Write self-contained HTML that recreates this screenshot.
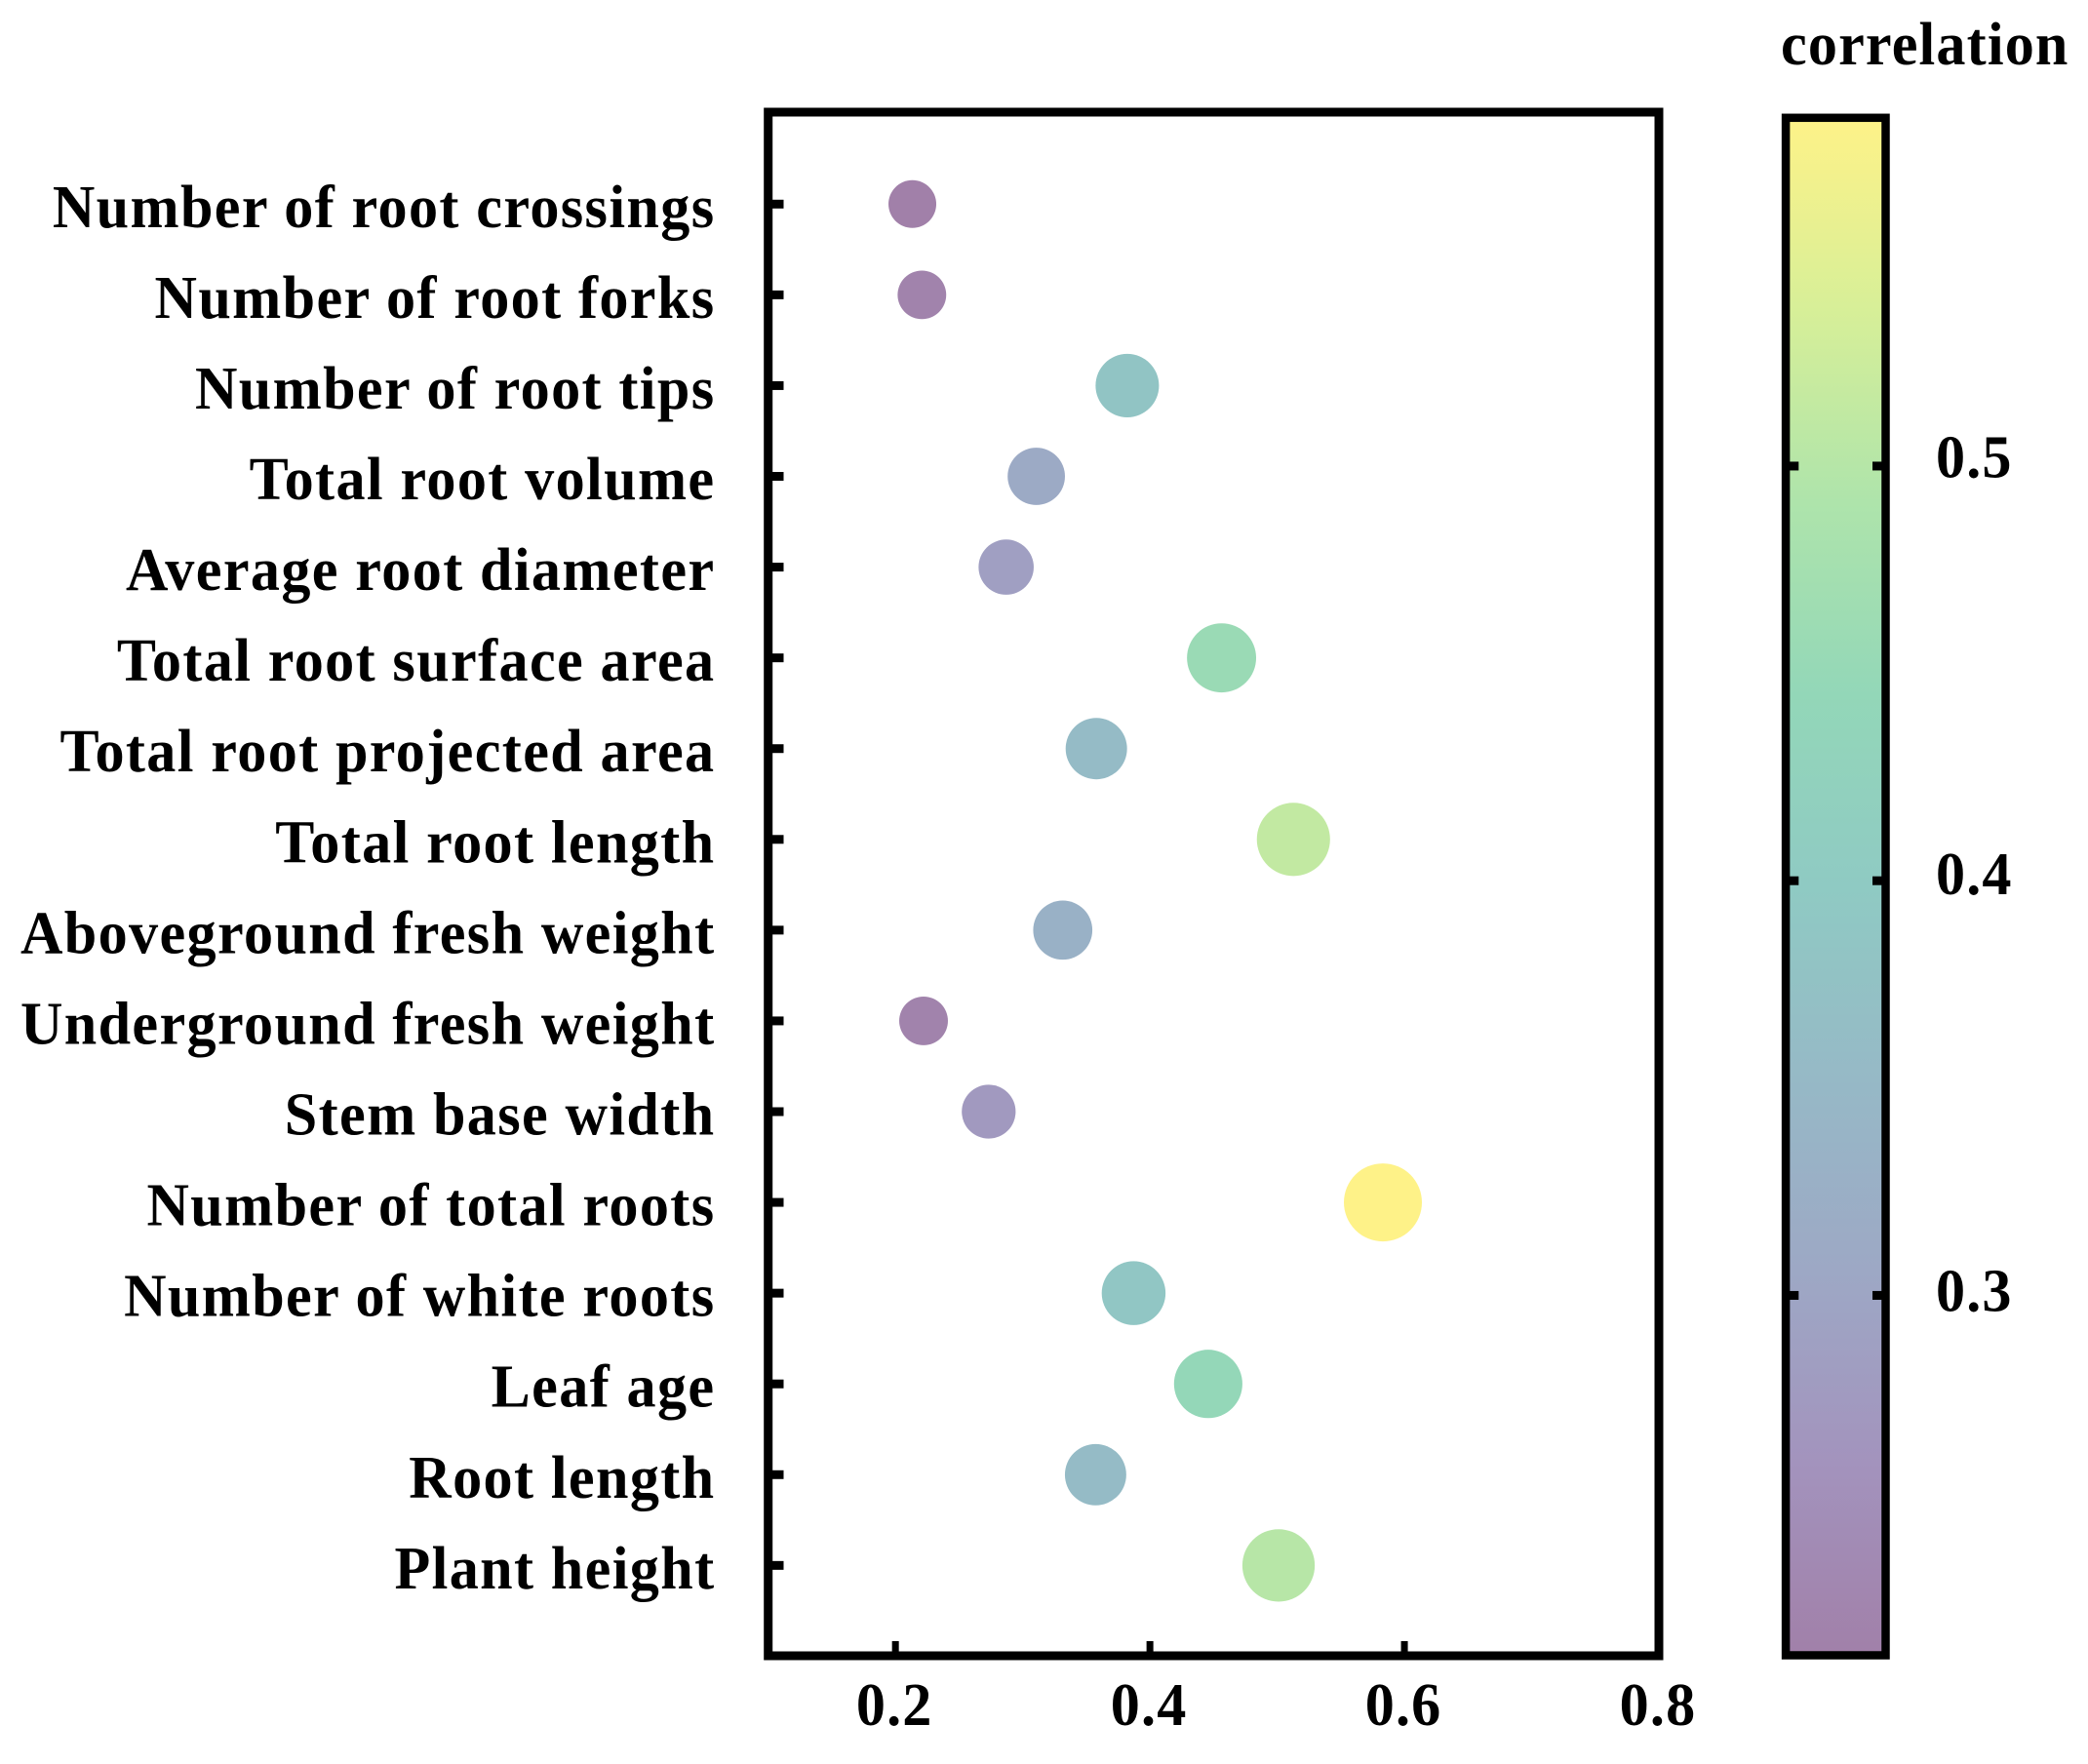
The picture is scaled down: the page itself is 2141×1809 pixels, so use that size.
<!DOCTYPE html>
<html lang="en">
<head>
<meta charset="utf-8">
<title>Correlation bubble chart</title>
<style>
html,body{margin:0;padding:0;background:#fff;}
svg{display:block;}
text{font-family:"Liberation Serif",serif;font-weight:700;fill:#000;font-size:62px;}
</style>
</head>
<body>
<svg id="chart" width="2141" height="1809" viewBox="0 0 2141 1809" xmlns="http://www.w3.org/2000/svg">
<defs>
<linearGradient id="cbGrad" x1="0" y1="1" x2="0" y2="0"></linearGradient>
</defs>
<rect x="0" y="0" width="2141" height="1809" fill="#ffffff"></rect>
<g id="marks"></g>
<g id="axes"></g>
<g id="colorbar"></g>
<text transform="translate(1826 66) scale(0.97 1)" letter-spacing="1.2">correlation</text>
</svg>
<script>
const categories = ["Number of root crossings","Number of root forks","Number of root tips","Total root volume","Average root diameter","Total root surface area","Total root projected area","Total root length","Aboveground fresh weight","Underground fresh weight","Stem base width","Number of total roots","Number of white roots","Leaf age","Root length","Plant height"];
const correlations = [0.2133,0.2208,0.3822,0.3107,0.287,0.4563,0.3579,0.5128,0.3315,0.2221,0.2733,0.5831,0.3872,0.4458,0.3573,0.5011];
const xTickValues = [0.2,0.4,0.6,0.8];
const xTickLabels = ["0.2","0.4","0.6","0.8"];
const colorbarTickValues = [0.3,0.4,0.5];
const colorbarTickLabels = ["0.3","0.4","0.5"];
const colormap = ["#a180a9","#a393bd","#9da8c5","#96b9c6","#8fcac3","#93d7b8","#aee4ab","#d7ef98","#fef288"];

const svgNS = "http://www.w3.org/2000/svg";
const plot = {left:787.7,right:1701,top:115,bottom:1698,xMin:0.1,xMax:0.8,y0:209.3,step:93.07};
const bar = {left:1835.3,right:1929.3,top:125,bottom:1693.3,vMin:0.2142,vMax:0.583};

function xScale(v){return plot.left+(v-plot.xMin)/(plot.xMax-plot.xMin)*(plot.right-plot.left);}
function yScale(i){return plot.y0+i*plot.step;}
function barScale(v){return bar.bottom-(v-bar.vMin)/(bar.vMax-bar.vMin)*(bar.bottom-bar.top);}
function barLabelBaseline(v){return 917-(v-0.4)*4275;}
function radiusScale(v){return Math.sqrt(Math.max(100,600+2704*(v-0.2133)));}
function hexToRgb(h){return [1,3,5].map(function(p){return parseInt(h.substr(p,2),16);});}
function colorScale(v){
  const t=Math.min(1,Math.max(0,(v-bar.vMin)/(bar.vMax-bar.vMin)))*(colormap.length-1);
  const i=Math.min(colormap.length-2,Math.floor(t));
  const a=hexToRgb(colormap[i]);
  const b=hexToRgb(colormap[i+1]);
  const f=t-i;
  return "rgb("+a.map(function(c,k){return Math.round(c+(b[k]-c)*f);}).join(",")+")";
}
function make(tag,attrs,parent){
  const el=document.createElementNS(svgNS,tag);
  Object.keys(attrs).forEach(function(k){el.setAttribute(k,attrs[k]);});
  parent.appendChild(el);
  return el;
}
function placeText(x,y){return "translate("+x+" "+y+") scale(0.97 1)";}

const marks=document.getElementById("marks");
const axes=document.getElementById("axes");
const colorbar=document.getElementById("colorbar");

correlations.forEach(function(v,i){
  const c=make("circle",{cx:xScale(v),cy:yScale(i),r:radiusScale(v),fill:colorScale(v)},marks);
  
  
});

categories.forEach(function(name,i){
  const t=make("line",{x1:plot.left,x2:803.5,y1:yScale(i),y2:yScale(i),stroke:"#000","stroke-width":9},axes);
  
  
  const l=make("text",{transform:placeText(733.5,yScale(i)+23.5),"text-anchor":"end","letter-spacing":"1.43"},axes);
  l.textContent=name;
  
  
});

xTickValues.forEach(function(v,i){
  const t=make("line",{x1:xScale(v),x2:xScale(v),y1:plot.bottom,y2:1683,stroke:"#000","stroke-width":7},axes);
  
  
  const l=make("text",{transform:placeText(xScale(v)-1,1769),"text-anchor":"middle","letter-spacing":"1.2"},axes);
  l.textContent=xTickLabels[i];
  
  
});

const frame=make("rect",{x:plot.left,y:plot.top,width:plot.right-plot.left,height:plot.bottom-plot.top,fill:"none",stroke:"#000","stroke-width":9},axes);



const grad=document.getElementById("cbGrad");
colormap.forEach(function(c,i){
  make("stop",{offset:i/(colormap.length-1),"stop-color":c},grad);
});
const cbRect=make("rect",{x:bar.left-4.2,y:bar.top-4.2,width:bar.right-bar.left+8.4,height:bar.bottom-bar.top+8.4,fill:"url(#cbGrad)",stroke:"#000","stroke-width":8.5},colorbar);



colorbarTickValues.forEach(function(v,i){
  const y=barScale(v);
  const a=make("line",{x1:bar.left-1,x2:1844.3,y1:y,y2:y,stroke:"#000","stroke-width":9},colorbar);
  
  
  const b=make("line",{x1:1920,x2:bar.right+1,y1:y,y2:y,stroke:"#000","stroke-width":9},colorbar);
  
  
  const l=make("text",{transform:placeText(1985,barLabelBaseline(v)),"letter-spacing":"1.2"},colorbar);
  l.textContent=colorbarTickLabels[i];
  
  
});
</script>
</body>
</html>
